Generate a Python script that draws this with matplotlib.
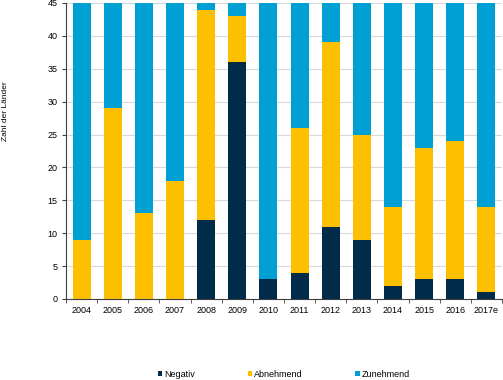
import numpy as np
import matplotlib
matplotlib.use("Agg")
import matplotlib.pyplot as plt

years = ["2004", "2005", "2006", "2007", "2008", "2009", "2010",
         "2011", "2012", "2013", "2014", "2015", "2016", "2017e"]
negativ = [0, 0, 0, 0, 12, 36, 3, 4, 11, 9, 2, 3, 3, 1]
abnehmend = [9, 29, 13, 18, 32, 7, 0, 22, 28, 16, 12, 20, 21, 13]
zunehmend = [36, 16, 32, 27, 1, 2, 42, 19, 6, 20, 31, 22, 21, 31]

plt.rcParams['font.family'] = ['Liberation Sans', 'DejaVu Sans']
plt.rcParams['font.size'] = 6.5

fig = plt.figure(figsize=(5.03, 3.80), dpi=100)
ax = fig.add_axes([66 / 503, 1 - 299 / 380, (502 - 66) / 503, 296 / 380])

x = np.arange(len(years))
neg = np.array(negativ)
abn = np.array(abnehmend)
zun = np.array(zunehmend)
w = 0.58
ax.bar(x, neg, w, color="#002b49", label="Negativ", zorder=2)
ax.bar(x, abn, w, bottom=neg, color="#fdc000", label="Abnehmend", zorder=2)
ax.bar(x, zun, w, bottom=neg + abn, color="#009fd4", label="Zunehmend", zorder=2)

ax.set_xlim(-0.5, len(years) - 0.5)
ax.set_ylim(0, 45)
ax.set_yticks(range(0, 46, 5))
ax.yaxis.grid(True, color="#d9d9d9", linewidth=0.8, zorder=0)
ax.set_xticks(x)
ax.set_xticklabels(years)
ax.set_xticks(np.arange(-0.5, len(years), 1), minor=True)
ax.tick_params(axis="x", which="major", length=0, pad=5)
ax.tick_params(axis="x", which="minor", length=3, direction="out", color="#404040")
ax.tick_params(axis="y", length=3, direction="out", color="#404040", pad=3)
for s in ["top", "right"]:
    ax.spines[s].set_visible(False)
for s in ["left", "bottom"]:
    ax.spines[s].set_color("#404040")
    ax.spines[s].set_linewidth(0.8)

fig.text(6 / 503, 1 - 111 / 380, "Zahl der Länder", rotation=90,
         ha="center", va="center", fontsize=6)

leg = ax.legend(loc="center", bbox_to_anchor=(0.5, -0.255),
                ncol=3, frameon=False,
                handlelength=0.5, handleheight=0.5, handletextpad=0.25,
                columnspacing=5.8, fontsize=6.5)

fig.savefig("out.png", dpi=100)
